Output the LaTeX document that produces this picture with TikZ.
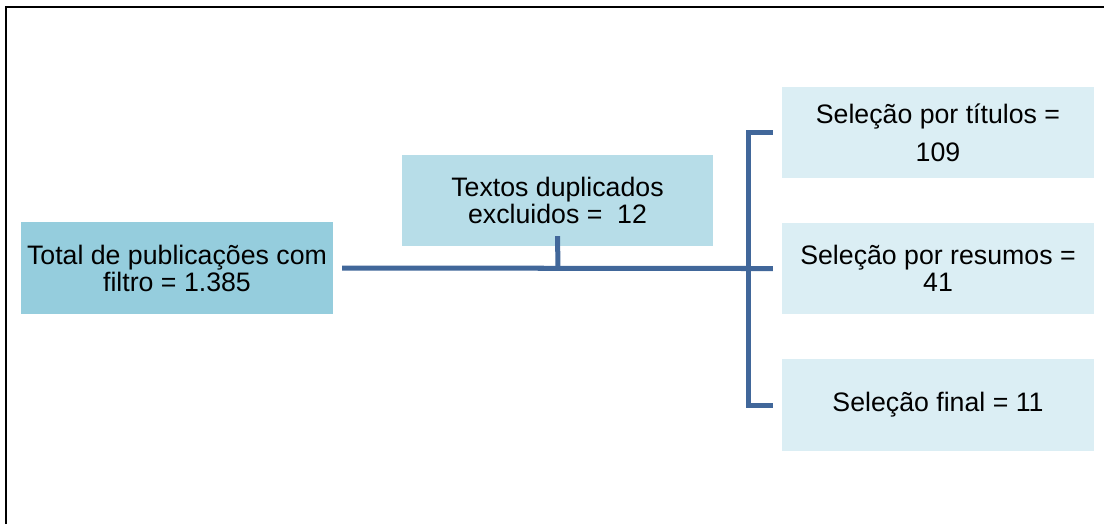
\documentclass[tikz,border=0pt]{standalone}
\usepackage{fontspec}
\setmainfont{Liberation Sans}
\usepackage{tikz}
\usepackage{xcolor}

\definecolor{boxdark}{HTML}{95CDDD}
\definecolor{boxmid}{HTML}{B7DDE8}
\definecolor{boxlight}{HTML}{DBEEF4}
\definecolor{linkblue}{HTML}{41679A}

\begin{document}
\begin{tikzpicture}[x=0.02cm, y=-0.02cm,
    etapa/.style={inner sep=0pt, align=center, minimum width=6.24cm, minimum height=1.83cm,
        font=\fontsize{15.2}{15.4}\selectfont},
    elo/.style={linkblue, line width=2.85pt}]
    \useasboundingbox (0,0) rectangle (1104,524);
    \draw[line width=1.1pt] (6,524) -- (6,7) -- (1104,7);

    \node[etapa, fill=boxdark] (total) at (177,268) {Total de publicações com\\filtro = 1.385};
    \node[etapa, fill=boxmid, minimum width=6.22cm] (dup) at (557.5,200.5) {Textos duplicados\\excluidos =~ 12};
    \node[etapa, fill=boxlight, font=\fontsize{15.2}{21.5}\selectfont] (tit) at (938,132.5) {Seleção por títulos =\\109};
    \node[etapa, fill=boxlight] (res) at (938,268.5) {Seleção por resumos =\\41};
    \node[etapa, fill=boxlight] (fin) at (938,405) {Seleção final = 11};

    \coordinate (meio) at (558,268);
    \coordinate (ramo) at (748,268);
    \draw[elo] ([xshift=5]total.east) -- (res.west -| ramo) -- ([xshift=-5]res.west);
    \draw[elo] ([yshift=6]dup.south) -- (meio);
    \draw[elo] ([xshift=-5]tit.west) -- (tit.west -| ramo) -- (fin.west -| ramo) -- ([xshift=-5]fin.west);
\end{tikzpicture}
\end{document}
